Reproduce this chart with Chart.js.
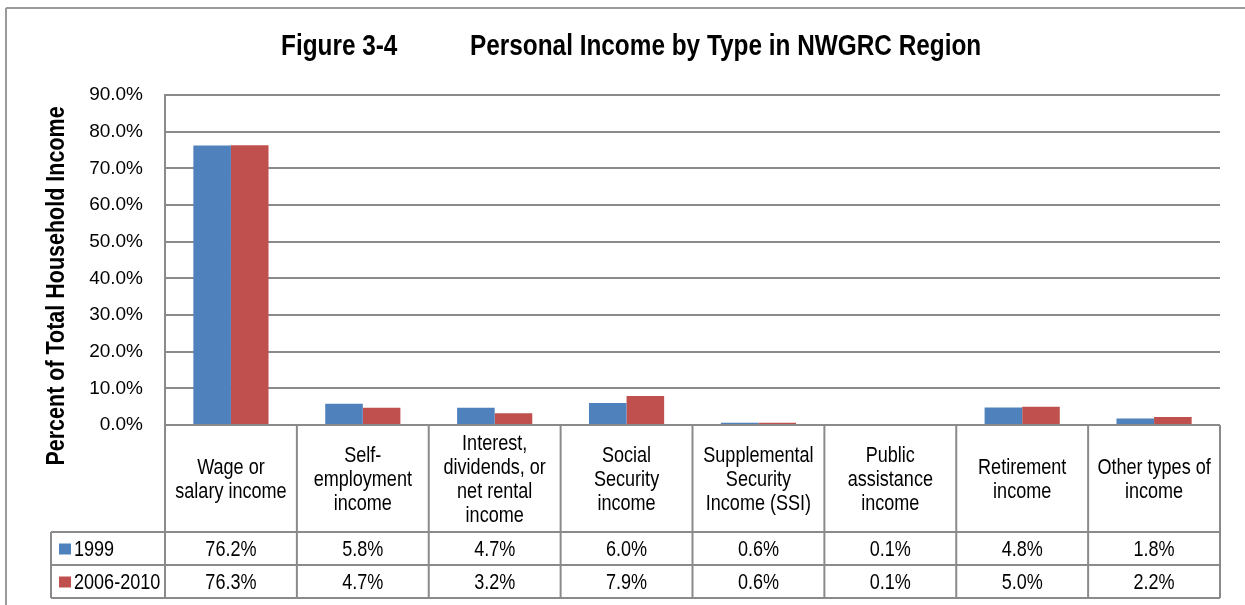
<!DOCTYPE html>
<html><head><meta charset="utf-8">
<script src="https://cdn.jsdelivr.net/npm/chart.js@4.4.1/dist/chart.umd.min.js"></script>
<style>html,body{margin:0;padding:0;background:#fff;} #wrap{width:1245px;height:605px;position:relative;}</style>
</head><body><div id="wrap"><canvas id="c" width="1245" height="605"></canvas></div>
<script>
const categories = [["Wage or","salary income"],["Self-","employment","income"],["Interest,","dividends, or","net rental","income"],["Social","Security","income"],["Supplemental","Security","Income (SSI)"],["Public","assistance","income"],["Retirement","income"],["Other types of","income"]];
const seriesNames = ["1999","2006-2010"];
const values1999 = [76.2,5.8,4.7,6.0,0.6,0.1,4.8,1.8];
const values2006 = [76.3,4.7,3.2,7.9,0.6,0.1,5.0,2.2];
const seriesColors = ["#4F81BD","#C0504D"];
const yMin = 0, yMax = 90, yStep = 10;
const titleLeft = "Figure 3-4";
const titleRight = "Personal Income by Type in NWGRC Region";
const yTitle = "Percent of Total Household Income";

const FONT = "'Liberation Sans',Arial,sans-serif";
const NARROW = 0.82;
const LINE = "#8a8a8a";

function line(ctx,x1,y1,x2,y2){ctx.beginPath();ctx.moveTo(x1,y1);ctx.lineTo(x2,y2);ctx.stroke();}
function ntext(ctx,t,x,y,align,sx){
  ctx.save();
  ctx.translate(x,y);
  ctx.scale(sx || NARROW,1);
  ctx.textAlign = align || 'center';
  ctx.fillText(t,0,0);
  ctx.restore();
}

const tablePlugin = {
  id:'tbl',
  beforeDraw(chart){
    const ctx = chart.ctx;
    ctx.save();
    ctx.fillStyle = '#fff';
    ctx.fillRect(0,0,chart.width,chart.height);
    ctx.strokeStyle = '#9a9a9a';
    ctx.lineWidth = 2;
    line(ctx,6,8,chart.width,8);
    line(ctx,6,8,6,chart.height);
    ctx.fillStyle = '#000';
    ctx.font = "bold 29px " + FONT;
    ctx.textBaseline = 'middle';
    ntext(ctx,titleLeft,281,47,'left',0.84);
    ntext(ctx,titleRight,470,47,'left',0.84);
    // y axis title (rotated), centred on plot + table block
    ctx.font = "bold 25px " + FONT;
    ctx.textBaseline = 'alphabetic';
    ctx.save();
    ctx.translate(64, 286);
    ctx.rotate(-Math.PI/2);
    ctx.scale(0.86,1);
    ctx.textAlign = 'center';
    ctx.fillText(yTitle,0,0);
    ctx.restore();
    ctx.restore();
  },
  afterDraw(chart){
    const ctx = chart.ctx;
    const x = chart.scales.x, y = chart.scales.y;
    const n = categories.length;
    const colW = (x.right - x.left)/n;
    const top = y.getPixelForValue(0);
    const r1 = top + 107, r2 = r1 + 33, r3 = r2 + 33;
    const legendLeft = 51;
    ctx.save();
    ctx.strokeStyle = LINE;
    ctx.lineWidth = 2;
    line(ctx,x.left,top,x.right,top);
    line(ctx,legendLeft,r1,x.right,r1);
    line(ctx,legendLeft,r2,x.right,r2);
    line(ctx,legendLeft,r3,x.right,r3);
    for(let i=0;i<=n;i++){ const xx = x.left + i*colW; line(ctx,xx,top,xx,r3); }
    line(ctx,legendLeft,r1,legendLeft,r3);
    ctx.fillStyle = '#000';
    ctx.font = "22px " + FONT;
    ctx.textBaseline = 'middle';
    const lh = 24;
    const midCat = (top + r1)/2 + 1;
    categories.forEach((lines,i)=>{
      const cx = x.getPixelForValue(i);
      const start = midCat - (lines.length-1)*lh/2;
      lines.forEach((t,j)=>ntext(ctx,t,cx,start + j*lh,'center'));
      ntext(ctx,values1999[i].toFixed(1)+'%', cx, (r1+r2)/2+1,'center');
      ntext(ctx,values2006[i].toFixed(1)+'%', cx, (r2+r3)/2+1,'center');
    });
    const rows = [[r1,r2],[r2,r3]];
    rows.forEach((r,k)=>{
      const cy = (r[0]+r[1])/2;
      ctx.fillStyle = seriesColors[k];
      ctx.fillRect(59, cy-5, 12, 11);
      ctx.fillStyle = '#000';
      ntext(ctx,seriesNames[k], 74, cy+1,'left');
    });
    ctx.restore();
  }
};

new Chart(document.getElementById('c'), {
  type:'bar',
  data:{
    labels: categories,
    datasets:[
      {label:seriesNames[0], data:values1999, backgroundColor:seriesColors[0], borderWidth:0},
      {label:seriesNames[1], data:values2006, backgroundColor:seriesColors[1], borderWidth:0}
    ]
  },
  options:{
    responsive:false,
    animation:false,
    datasets:{bar:{categoryPercentage:0.57, barPercentage:1}},
    layout:{padding:{left:38, right:25, top:95, bottom:180}},
    plugins:{legend:{display:false}, tooltip:{enabled:false}, title:{display:false}},
    scales:{
      x:{display:false},
      y:{
        min:yMin, max:yMax,
        afterFit(s){ s.width = 127; },
        ticks:{stepSize:yStep, padding:22, color:'#000', font:{family:FONT, size:19},
          callback:(v)=>Number(v).toFixed(1)+'%'},
        grid:{color:LINE, lineWidth:2, drawTicks:false},
        border:{display:true, color:LINE, width:2},
        title:{display:false, text:yTitle}
      }
    }
  },
  plugins:[tablePlugin]
});
</script>
</body></html>
